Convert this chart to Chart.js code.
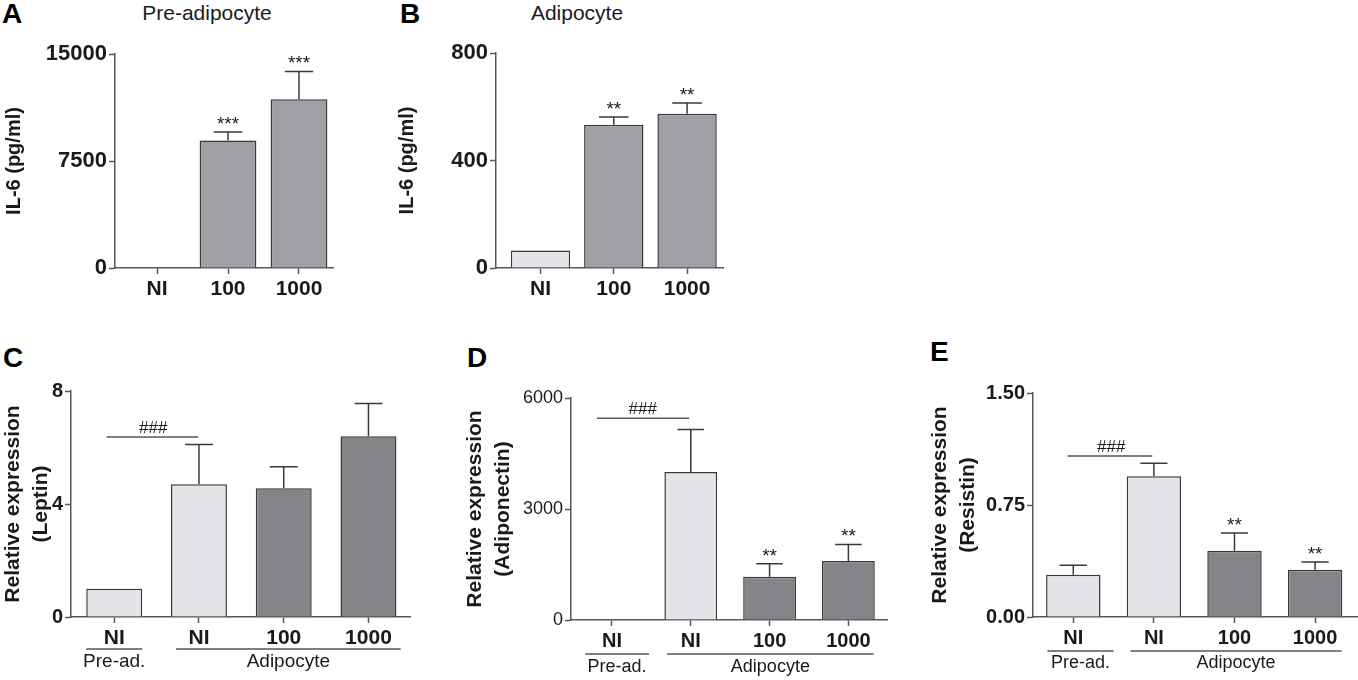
<!DOCTYPE html>
<html>
<head>
<meta charset="utf-8">
<title>IL-6, leptin, adiponectin, resistin</title>
<script src="https://cdn.jsdelivr.net/npm/chart.js@4.4.0/dist/chart.umd.min.js"></script>
<style>
  body { margin: 0; width: 1358px; height: 680px; background: #fff; position: relative; overflow: hidden;
         font-family: "Liberation Sans", Arial, sans-serif; }
  canvas { position: absolute; }
  .letter { position: absolute; font-weight: bold; font-size: 28px; line-height: 28px; color: #000; }
  .subtitle { position: absolute; width: 200px; text-align: center; font-size: 21px; line-height: 21px; color: #1a1a1a; }
</style>
</head>
<body>
<div class="letter" style="left:2px;top:0">A</div>
<div class="letter" style="left:400px;top:0">B</div>
<div class="letter" style="left:3px;top:344px">C</div>
<div class="letter" style="left:467px;top:344px">D</div>
<div class="letter" style="left:930px;top:338px">E</div>
<div class="subtitle" style="left:107px;top:2px">Pre-adipocyte</div>
<div class="subtitle" style="left:477px;top:2px">Adipocyte</div>

<canvas id="chartA" width="345" height="300" style="left:0;top:30px"></canvas>
<canvas id="chartB" width="345" height="300" style="left:390px;top:30px"></canvas>
<canvas id="chartC" width="450" height="310" style="left:0;top:370px"></canvas>
<canvas id="chartD" width="440" height="310" style="left:460px;top:370px"></canvas>
<canvas id="chartE" width="438" height="310" style="left:920px;top:370px"></canvas>

<script>
// categories
const il6Cats = ['NI', '100', '1000'];
const expressionCats = ['NI', 'NI', '100', '1000'];
const expressionGroups = ['Pre-ad.', 'Adipocyte'];

// A - IL-6 pre-adipocyte
const il6PreValues = [0, 8940, 11820];
const il6PreErrors = [0, 590, 1960];
const il6PreStars = ['', '***', '***'];
const il6PreTicks = [0, 7500, 15000];

// B - IL-6 adipocyte
const il6AdipoValues = [65, 533, 574];
const il6AdipoErrors = [0, 29, 40];
const il6AdipoStars = ['', '**', '**'];
const il6AdipoTicks = [0, 400, 800];

// C - leptin
const leptinValues = [1.0, 4.70, 4.56, 6.40];
const leptinErrors = [0, 1.41, 0.76, 1.16];
const leptinStars = ['', '', '', ''];
const leptinTicks = [0, 4, 8];

// D - adiponectin
const adiponectinValues = [0, 4003, 1169, 1592];
const adiponectinErrors = [0, 1144, 351, 451];
const adiponectinStars = ['', '', '**', '**'];
const adiponectinTicks = [0, 3000, 6000];

// E - resistin
const resistinValues = [0.283, 0.942, 0.444, 0.317];
const resistinErrors = [0.063, 0.087, 0.118, 0.051];
const resistinStars = ['', '', '**', '**'];
const resistinTicks = [0, 0.75, 1.5];
const resistinTickLabels = ['0.00', '0.75', '1.50'];

const LIGHT = '#e4e5e9';
const MID = '#a19fa6';
const DARK = '#858489';
const EDGE = '#3b3838';
const AXIS = '#5b5555';
const INK = '#1a1a1a';
const FAMILY = '"Liberation Sans", Arial, sans-serif';
const NARROW = '"Liberation Sans Narrow", "Liberation Sans", Arial, sans-serif';

function extrasPlugin(c) {
  return {
    id: 'extras',
    afterDatasetsDraw(chart) {
      const { ctx, scales: { y } } = chart;
      const bars = chart.getDatasetMeta(0).data;
      ctx.save();
      ctx.strokeStyle = EDGE;
      ctx.lineWidth = 1.5;
      ctx.fillStyle = INK;
      ctx.textAlign = 'center';
      ctx.textBaseline = 'alphabetic';
      ctx.font = '19px ' + FAMILY;
      c.values.forEach((v, i) => {
        const cx = bars[i].x;
        let top = y.getPixelForValue(v);
        if (c.errors[i] > 0) {
          top = y.getPixelForValue(v + c.errors[i]);
          const half = bars[i].width * 0.25;
          ctx.beginPath();
          ctx.moveTo(cx, y.getPixelForValue(v));
          ctx.lineTo(cx, top);
          ctx.moveTo(cx - half, top);
          ctx.lineTo(cx + half, top);
          ctx.stroke();
        }
        if (c.stars[i]) ctx.fillText(c.stars[i], cx, top - 2);
      });
      ctx.restore();
    },
    afterDraw(chart) {
      const { ctx, scales: { x, y } } = chart;
      ctx.save();
      ctx.strokeStyle = AXIS;
      ctx.lineWidth = 1.5;
      ctx.fillStyle = INK;
      ctx.textAlign = 'center';
      if (c.sig) {
        const ly = y.getPixelForValue(c.sig.y);
        ctx.beginPath();
        ctx.moveTo(x.getPixelForValue(c.sig.from), ly);
        ctx.lineTo(x.getPixelForValue(c.sig.to), ly);
        ctx.stroke();
        ctx.font = '17px ' + FAMILY;
        ctx.textBaseline = 'alphabetic';
        ctx.fillText(c.sig.text, x.getPixelForValue(c.sig.textAt), ly - 4);
      }
      if (c.groups) {
        const base = y.bottom;
        ctx.font = c.groupFont;
        ctx.textBaseline = 'middle';
        c.groups.forEach(g => {
          const x0 = x.getPixelForValue(g.from), x1 = x.getPixelForValue(g.to);
          ctx.beginPath();
          ctx.moveTo(x0, base + c.groupLine);
          ctx.lineTo(x1, base + c.groupLine);
          ctx.stroke();
          ctx.fillText(g.label, (x0 + x1) / 2, base + c.groupText);
        });
      }
      ctx.restore();
    }
  };
}

function makeChart(id, c) {
  const tickGrid = {
    display: true, offset: false, drawOnChartArea: false, drawTicks: true,
    tickLength: 6, tickWidth: 1.5, tickColor: AXIS, color: AXIS
  };
  const border = { display: true, color: AXIS, width: 1.5 };
  const labels = c.tickLabels || c.ticks.map(String);
  return new Chart(document.getElementById(id), {
    type: 'bar',
    data: {
      labels: c.cats.map((_, i) => i),
      datasets: [{
        data: c.values,
        backgroundColor: c.colors,
        borderColor: EDGE,
        borderWidth: 1.5,
        categoryPercentage: c.barFrac,
        barPercentage: 1
      }]
    },
    options: {
      responsive: false,
      animation: false,
      devicePixelRatio: 1,
      layout: { padding: c.padding },
      plugins: { legend: { display: false }, tooltip: { enabled: false } },
      scales: {
        x: {
          type: 'linear', min: c.xMin, max: c.xMax, offset: false,
          grid: tickGrid, border: border,
          afterBuildTicks: s => { s.ticks = c.cats.map((_, i) => ({ value: i })); },
          afterFit: s => { s.height = c.xHeight; },
          ticks: {
            callback: v => c.cats[v], autoSkip: false, maxRotation: 0, padding: 3,
            color: INK, font: { family: FAMILY, size: c.xFontSize, weight: 'bold' }
          }
        },
        y: {
          min: 0, max: c.ticks[c.ticks.length - 1],
          grid: tickGrid, border: border,
          afterBuildTicks: s => { s.ticks = c.ticks.map(v => ({ value: v })); },
          afterFit: s => { s.width = c.yWidth; },
          ticks: { callback: (v, i) => labels[i], padding: 2, color: INK, font: c.yFont },
          title: {
            display: true, text: c.yTitle, color: INK,
            font: { family: FAMILY, size: c.titleSize, weight: 'bold', lineHeight: 1.3 },
            padding: { top: c.titlePad, bottom: 0 }
          }
        }
      }
    },
    plugins: [extrasPlugin(c)]
  });
}

makeChart('chartA', {
  cats: il6Cats, values: il6PreValues, errors: il6PreErrors, stars: il6PreStars,
  ticks: il6PreTicks, colors: [LIGHT, MID, MID], barFrac: 0.8,
  xMin: -0.592, xMax: 2.479, yWidth: 115, xHeight: 62,
  padding: { top: 24, right: 12, bottom: 0, left: 0 },
  xFontSize: 21, yFont: { family: FAMILY, size: 22, weight: 'bold' },
  yTitle: 'IL-6 (pg/ml)', titleSize: 20, titlePad: 1
});

makeChart('chartB', {
  cats: il6Cats, values: il6AdipoValues, errors: il6AdipoErrors, stars: il6AdipoStars,
  ticks: il6AdipoTicks, colors: [LIGHT, MID, MID], barFrac: 0.81,
  xMin: -0.607, xMax: 2.49, yWidth: 106, xHeight: 62,
  padding: { top: 23, right: 12, bottom: 0, left: 0 },
  xFontSize: 21, yFont: { family: FAMILY, size: 22, weight: 'bold' },
  yTitle: 'IL-6 (pg/ml)', titleSize: 20, titlePad: 4
});

makeChart('chartC', {
  cats: expressionCats, values: leptinValues, errors: leptinErrors, stars: leptinStars,
  ticks: leptinTicks, colors: [LIGHT, LIGHT, DARK, DARK], barFrac: 0.66,
  xMin: -0.51, xMax: 3.49, yWidth: 71, xHeight: 63,
  padding: { top: 21, right: 40, bottom: 0, left: 0 },
  xFontSize: 21, yFont: { family: FAMILY, size: 20, weight: 'bold' },
  yTitle: ['Relative expression', '(Leptin)'], titleSize: 21, titlePad: 0,
  sig: { from: -0.09, to: 0.99, y: 6.37, textAt: 0.46, text: '###' },
  groups: [
    { label: expressionGroups[0], from: -0.33, to: 0.33 },
    { label: expressionGroups[1], from: 0.73, to: 3.38 }
  ],
  groupLine: 32, groupText: 45, groupFont: '19px ' + FAMILY
});

makeChart('chartD', {
  cats: expressionCats, values: adiponectinValues, errors: adiponectinErrors, stars: adiponectinStars,
  ticks: adiponectinTicks, colors: [LIGHT, LIGHT, DARK, DARK], barFrac: 0.67,
  xMin: -0.52, xMax: 3.49, yWidth: 111, xHeight: 60,
  padding: { top: 28, right: 13, bottom: 0, left: 0 },
  xFontSize: 20, yFont: { family: NARROW, size: 18, weight: 'normal' },
  yTitle: ['Relative expression', '(Adiponectin)'], titleSize: 21, titlePad: 2,
  sig: { from: -0.19, to: 0.98, y: 5450, textAt: 0.39, text: '###' },
  groups: [
    { label: expressionGroups[0], from: -0.34, to: 0.47 },
    { label: expressionGroups[1], from: 0.70, to: 3.32 }
  ],
  groupLine: 34, groupText: 47, groupFont: '18px ' + FAMILY
});

makeChart('chartE', {
  cats: expressionCats, values: resistinValues, errors: resistinErrors, stars: resistinStars,
  ticks: resistinTicks, tickLabels: resistinTickLabels, colors: [LIGHT, LIGHT, DARK, DARK], barFrac: 0.675,
  xMin: -0.50, xMax: 3.52, yWidth: 113, xHeight: 63,
  padding: { top: 23, right: 1, bottom: 0, left: 0 },
  xFontSize: 20, yFont: { family: FAMILY, size: 20, weight: 'bold' },
  yTitle: ['Relative expression', '(Resistin)'], titleSize: 21, titlePad: 7,
  sig: { from: -0.07, to: 0.98, y: 1.078, textAt: 0.47, text: '###' },
  groups: [
    { label: expressionGroups[0], from: -0.32, to: 0.50 },
    { label: expressionGroups[1], from: 0.71, to: 3.33 }
  ],
  groupLine: 34, groupText: 46, groupFont: '18px ' + FAMILY
});
</script>
</body>
</html>
